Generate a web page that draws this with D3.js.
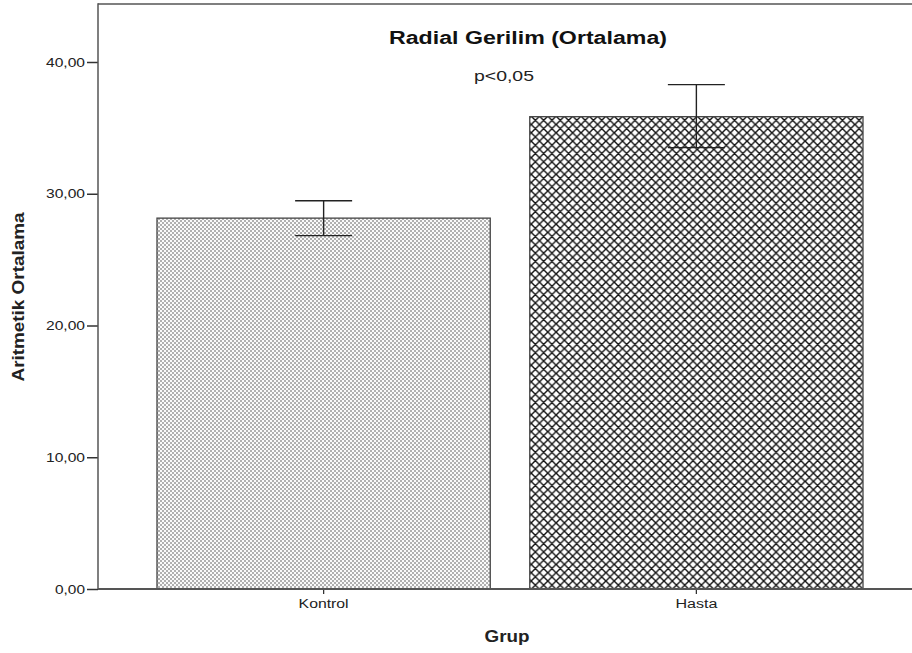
<!DOCTYPE html>
<html>
<head>
<meta charset="utf-8">
<script src="https://cdn.jsdelivr.net/npm/d3@7"></script>
<style>
  html, body { margin: 0; padding: 0; background: #fff; }
  svg { display: block; font-family: "Liberation Sans", Arial, sans-serif; }
</style>
</head>
<body>
<svg id="chart" width="912" height="653"></svg>
<script>
const categories = ["Kontrol", "Hasta"];
const means = [28.15, 35.85];
const errLow = [26.82, 33.5];
const errHigh = [29.47, 38.28];
const yTicks = [0, 10, 20, 30, 40];
const patterns = ["dots", "cross"];
const title = "Radial Gerilim (Ortalama)";
const note = "p<0,05";
const xTitle = "Grup";
const yTitle = "Aritmetik Ortalama";

const svg = d3.select("#chart");
const mLeft = 98, mTop = 4, mBottom = 589, mRight = 914;

const y = d3.scaleLinear().domain([0, 40]).range([mBottom, 62]);
const x = d3.scaleBand().domain(categories).range([157, 863]).paddingInner(0.106).paddingOuter(0);

const defs = svg.append("defs");
const pd = defs.append("pattern").attr("id", "dots").attr("patternUnits", "userSpaceOnUse")
  .attr("width", 4).attr("height", 4);
pd.append("rect").attr("width", 4).attr("height", 4).attr("fill", "#fafafa");
pd.append("rect").attr("x", 0).attr("y", 0).attr("width", 2).attr("height", 2).attr("fill", "#b0b0b0");
pd.append("rect").attr("x", 2).attr("y", 2).attr("width", 2).attr("height", 2).attr("fill", "#b0b0b0");

const pc = defs.append("pattern").attr("id", "cross").attr("patternUnits", "userSpaceOnUse")
  .attr("width", 8.3).attr("height", 8.3);
pc.append("rect").attr("width", 8.3).attr("height", 8.3).attr("fill", "#fff");
pc.append("path").attr("d", "M-1,1 L1,-1 M0,8.3 L8.3,0 M7.3,9.3 L9.3,7.3 M-1,7.3 L1,9.3 M0,0 L8.3,8.3 M7.3,-1 L9.3,1")
  .attr("stroke", "#111").attr("stroke-width", 1.4);

// frame top line
svg.append("line").attr("x1", mLeft).attr("x2", mRight).attr("y1", mTop).attr("y2", mTop)
  .attr("stroke", "#555").attr("stroke-width", 1.5);

// bars
svg.selectAll("rect.bar").data(categories).enter().append("rect")
  .attr("class", "bar")
  .attr("x", d => x(d))
  .attr("width", x.bandwidth())
  .attr("y", (d, i) => y(means[i]))
  .attr("height", (d, i) => y(0) - y(means[i]))
  .attr("fill", (d, i) => `url(#${patterns[i]})`)
  .attr("stroke", "#444").attr("stroke-width", 1.3);

// error bars
const cap = 28.5;
const eb = svg.append("g").attr("stroke", "#222").attr("stroke-width", 1.4);
categories.forEach((c, i) => {
  const cx = x(c) + x.bandwidth() / 2;
  eb.append("line").attr("x1", cx).attr("x2", cx).attr("y1", y(errHigh[i])).attr("y2", y(errLow[i]));
  eb.append("line").attr("x1", cx - cap).attr("x2", cx + cap).attr("y1", y(errHigh[i])).attr("y2", y(errHigh[i]));
  eb.append("line").attr("x1", cx - cap).attr("x2", cx + cap).attr("y1", y(errLow[i])).attr("y2", y(errLow[i]));
});

// y axis
const yAxis = d3.axisLeft(y).tickValues(yTicks).tickSize(11).tickPadding(2)
  .tickFormat(d => d3.format(".2f")(d).replace(".", ","));
const gy = svg.append("g").attr("transform", `translate(${mLeft},0)`).call(yAxis);
gy.select(".domain").remove();
gy.selectAll(".tick line").attr("stroke", "#333").attr("stroke-width", 1.5);
gy.selectAll(".tick text").attr("font-size", 12.5).attr("fill", "#222")
  .attr("font-family", "Liberation Sans, Arial, sans-serif")
  .attr("textLength", d => d >= 10 ? 39 : 30).attr("lengthAdjust", "spacingAndGlyphs");
svg.append("line").attr("x1", mLeft).attr("x2", mLeft).attr("y1", mTop - 0.75).attr("y2", mBottom)
  .attr("stroke", "#555").attr("stroke-width", 1.5);

// x axis
const xAxis = d3.axisBottom(x).tickSize(5).tickPadding(5);
const gx = svg.append("g").attr("transform", `translate(0,${mBottom})`).call(xAxis);
gx.select(".domain").remove();
gx.selectAll(".tick line").attr("stroke", "#333").attr("stroke-width", 1.3);
gx.selectAll(".tick text").attr("font-size", 12.5).attr("fill", "#222")
  .attr("font-family", "Liberation Sans, Arial, sans-serif")
  .attr("textLength", d => d === "Kontrol" ? 50 : 42).attr("lengthAdjust", "spacingAndGlyphs");
svg.append("line").attr("x1", mLeft).attr("x2", mRight).attr("y1", mBottom).attr("y2", mBottom)
  .attr("stroke", "#555").attr("stroke-width", 1.8);

// titles
svg.append("text").attr("x", 528).attr("y", 44).attr("text-anchor", "middle")
  .attr("font-size", 17.5).attr("font-weight", "bold").attr("fill", "#111")
  .attr("textLength", 278).attr("lengthAdjust", "spacingAndGlyphs").text(title);
svg.append("text").attr("x", 504).attr("y", 81).attr("text-anchor", "middle")
  .attr("font-size", 14.5).attr("fill", "#222")
  .attr("textLength", 60).attr("lengthAdjust", "spacingAndGlyphs").text(note);
svg.append("text").attr("x", 507).attr("y", 642).attr("text-anchor", "middle")
  .attr("font-size", 16.5).attr("font-weight", "bold").attr("fill", "#222")
  .attr("textLength", 45).attr("lengthAdjust", "spacingAndGlyphs").text(xTitle);
svg.append("text").attr("transform", "translate(24,297) rotate(-90)").attr("text-anchor", "middle")
  .attr("font-size", 16).attr("font-weight", "bold").attr("fill", "#222")
  .attr("textLength", 169).attr("lengthAdjust", "spacingAndGlyphs").text(yTitle);
</script>
</body>
</html>
